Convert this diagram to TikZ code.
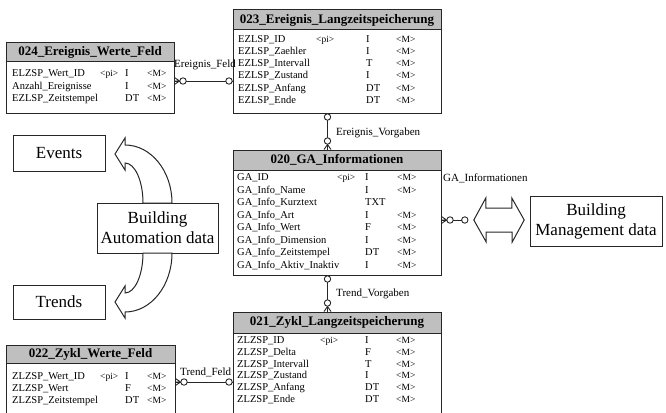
\documentclass[tikz,border=0pt]{standalone}
\usepackage{fontspec}
\setmainfont{Liberation Serif}
\usetikzlibrary{calc}
\tikzset{
  conn/.style={draw=black!85,line width=0.9pt},
  crowfoot/.pic={
    \draw[conn] (0,-3.5) -- (5,0) (0,0) -- (5,0) (0,3.5) -- (5,0);
    \draw[conn,fill=white] (8.5,0) circle[radius=3.2];
  },
  onering/.pic={
    \draw[conn,fill=white] (3.5,0) circle[radius=3.2];
  }
}
\begin{document}
\begin{tikzpicture}[x=1pt,y=-1pt,
  tframe/.style={draw=black!85,line width=1pt,inner sep=0pt},
  thead/.style={draw=black!85,line width=1pt,fill=black!25,inner sep=0pt,
    font=\fontsize{13}{15}\selectfont\bfseries},
  cell/.style={anchor=west,inner sep=0pt,text height=7pt,text depth=2pt,
    font=\fontsize{10.5}{12}\selectfont},
  tag/.style={cell,font=\fontsize{9.5}{11}\selectfont},
  clabel/.style={anchor=west,inner sep=0pt,font=\fontsize{11}{13}\selectfont},
  bigbox/.style={draw=black!85,line width=1pt,inner sep=0pt,align=center,
    font=\fontsize{17}{20}\selectfont},
  bigarrow/.style={draw=black!85,line width=1pt,fill=white,line join=miter}]
\useasboundingbox (0,0) rectangle (666,412);
\begin{scope}
\clip (0,0) rectangle (666,412);

% ---------- 023 Ereignis_Langzeitspeicherung ----------
\node[tframe,minimum width=208,minimum height=103] (t023) at (337,61.5) {};
\node[thead,minimum width=208,minimum height=20,anchor=north] (t023-h) at (t023.north)
  {023\_Ereignis\_Langzeitspeicherung};
\node[tag] (t023-pk) at (316,39.5) {<pi>};
\foreach \nm/\ty [count=\i from 0] in {EZLSP\_ID/I, EZLSP\_Zaehler/I,
    EZLSP\_Intervall/T, EZLSP\_Zustand/I, EZLSP\_Anfang/DT, EZLSP\_Ende/DT}{
  \node[cell] (t023-n\i) at (238,{39.5+12.25*\i}) {\nm};
  \node[cell] (t023-t\i) at (366,{39.5+12.25*\i}) {\ty};
  \node[tag]  (t023-m\i) at (396,{39.5+12.25*\i}) {<M>};
}

% ---------- 024 Ereignis_Werte_Feld ----------
\node[tframe,minimum width=168,minimum height=70] (t024) at (90,78) {};
\node[thead,minimum width=168,minimum height=19,anchor=north] (t024-h) at (t024.north)
  {024\_Ereignis\_Werte\_Feld};
\node[tag] (t024-pk) at (100,74) {<pi>};
\foreach \nm/\ty [count=\i from 0] in {ELZSP\_Wert\_ID/I, Anzahl\_Ereignisse/I,
    EZLSP\_Zeitstempel/DT}{
  \node[cell] (t024-n\i) at (12,{74+12.5*\i}) {\nm};
  \node[cell] (t024-t\i) at (125,{74+12.5*\i}) {\ty};
  \node[tag]  (t024-m\i) at (147,{74+12.5*\i}) {<M>};
}

% ---------- 020 GA_Informationen ----------
\node[tframe,minimum width=208,minimum height=125] (t020) at (337,212.5) {};
\node[thead,minimum width=208,minimum height=20,anchor=north] (t020-h) at (t020.north)
  {020\_GA\_Informationen};
\node[tag] (t020-pk) at (337,178) {<pi>};
\foreach \nm/\ty/\mm [count=\i from 0] in {GA\_ID/I/<M>, GA\_Info\_Name/I/<M>,
    GA\_Info\_Kurztext/TXT/, GA\_Info\_Art/I/<M>, GA\_Info\_Wert/F/<M>,
    GA\_Info\_Dimension/I/<M>, GA\_Info\_Zeitstempel/DT/<M>,
    GA\_Info\_Aktiv\_Inaktiv/I/<M>}{
  \node[cell] (t020-n\i) at (237,{178+12.5*\i}) {\nm};
  \node[cell] (t020-t\i) at (365,{178+12.5*\i}) {\ty};
  \node[tag]  (t020-m\i) at (397,{178+12.5*\i}) {\mm};
}

% ---------- 021 Zykl_Langzeitspeicherung ----------
\node[tframe,minimum width=208,minimum height=113] (t021) at (337,368.5) {};
\node[thead,minimum width=208,minimum height=21,anchor=north] (t021-h) at (t021.north)
  {021\_Zykl\_Langzeitspeicherung};
\node[tag] (t021-pk) at (320,341) {<pi>};
\foreach \nm/\ty [count=\i from 0] in {ZLZSP\_ID/I, ZLZSP\_Delta/F,
    ZLZSP\_Intervall/T, ZLZSP\_Zustand/I, ZLZSP\_Anfang/DT, ZLZSP\_Ende/DT}{
  \node[cell] (t021-n\i) at (237,{341+11.8*\i}) {\nm};
  \node[cell] (t021-t\i) at (365,{341+11.8*\i}) {\ty};
  \node[tag]  (t021-m\i) at (396,{341+11.8*\i}) {<M>};
}

% ---------- 022 Zykl_Werte_Feld ----------
\node[tframe,minimum width=169,minimum height=80] (t022) at (90.5,385) {};
\node[thead,minimum width=169,minimum height=18,anchor=north] (t022-h) at (t022.north)
  {022\_Zykl\_Werte\_Feld};
\node[tag] (t022-pk) at (100,377) {<pi>};
\foreach \nm/\ty [count=\i from 0] in {ZLZSP\_Wert\_ID/I, ZLZSP\_Wert/F,
    ZLZSP\_Zeitstempel/DT}{
  \node[cell] (t022-n\i) at (12,{377+11.8*\i}) {\nm};
  \node[cell] (t022-t\i) at (125,{377+11.8*\i}) {\ty};
  \node[tag]  (t022-m\i) at (147,{377+11.8*\i}) {<M>};
}

% ---------- plain boxes ----------
\node[bigbox,minimum width=92,minimum height=36] (events) at (59,153) {Events};
\node[bigbox,minimum width=121,minimum height=50] (bad) at (157.5,228)
  {Building\\Automation data};
\node[bigbox,minimum width=92,minimum height=34] (trends) at (59,302) {Trends};
\node[bigbox,minimum width=132,minimum height=50] (bmd) at (596,221)
  {Building\\Management data};

% ---------- curved block arrows ----------
\draw[bigarrow] (143,203) .. controls (143,181) and (135,163) .. (125,163)
  -- (125,170) -- (115,154) -- (125,138) -- (125,145)
  .. controls (151,145) and (172,171) .. (172,203) -- cycle;
\draw[bigarrow] (143,253) .. controls (143,275) and (135,293) .. (125,293)
  -- (125,286) -- (115,302) -- (125,318) -- (125,312)
  .. controls (151,312) and (172,285.6) .. (172,253) -- cycle;

% ---------- double block arrow ----------
\node[inner sep=0pt,minimum width=50,minimum height=44] (dbl) at (499,220) {};
\draw[bigarrow] (dbl.west) -- ++(12,-22) -- ++(0,10) -- ++(26,0) -- ++(0,-10)
  -- (dbl.east) -- ++(-12,22) -- ++(0,-10) -- ++(-26,0) -- ++(0,10) -- cycle;

% ---------- relationships ----------
\coordinate (efy) at (0,81);
\coordinate (tfy) at (0,382);
\coordinate (gay) at (0,220);
\coordinate (vx) at (327.5,0);
\coordinate (gaend) at ($(dbl.west)+(-5.5,0)$);

\draw[conn] (t024.east |- efy) -- (t023.west |- efy);
\pic at (t024.east |- efy) {crowfoot};
\pic[rotate=180] at (t023.west |- efy) {onering};
\node[clabel] (lef) at (174,65) {Ereignis\_Feld};

\draw[conn] (t023.south -| vx) -- (t020.north -| vx);
\pic[rotate=-90] at (t023.south -| vx) {onering};
\pic[rotate=90] at (t020.north -| vx) {crowfoot};
\node[clabel] (lev) at (336,133) {Ereignis\_Vorgaben};

\draw[conn] (t020.south -| vx) -- (t021.north -| vx);
\pic[rotate=-90] at (t020.south -| vx) {onering};
\pic[rotate=90] at (t021.north -| vx) {crowfoot};
\node[clabel] (ltv) at (336,294) {Trend\_Vorgaben};

\draw[conn] (t022.east |- tfy) -- (t021.west |- tfy);
\pic at (t022.east |- tfy) {crowfoot};
\pic[rotate=180] at (t021.west |- tfy) {onering};
\node[clabel] (ltf) at (180,372) {Trend\_Feld};

\draw[conn] (t020.east |- gay) -- (gaend);
\pic at (t020.east |- gay) {crowfoot};
\pic[rotate=180] at (gaend) {onering};
\node[clabel] (lga) at (443,178) {GA\_Informationen};
\end{scope}
\end{tikzpicture}
\end{document}
